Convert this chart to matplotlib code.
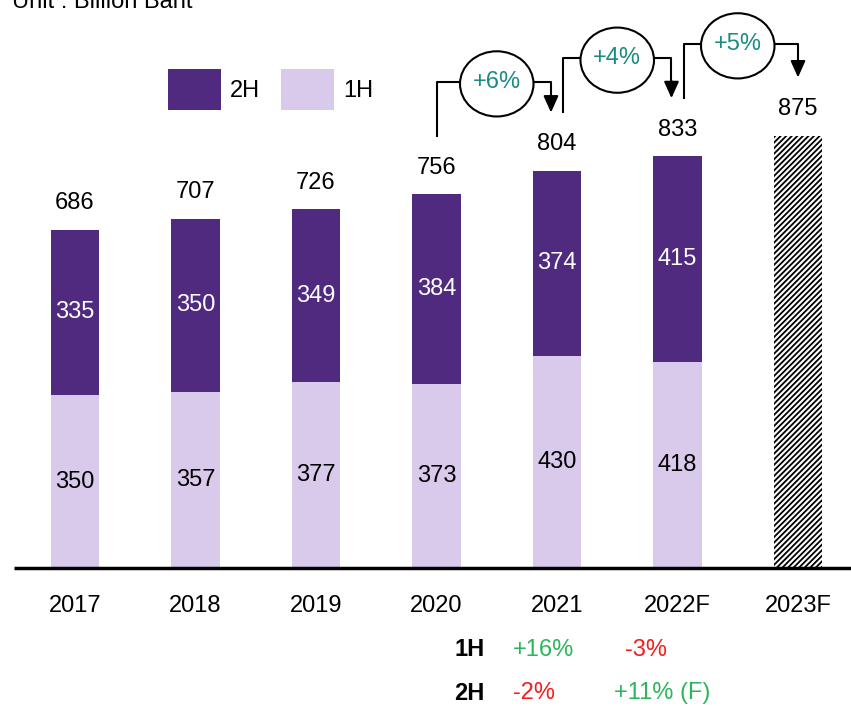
import matplotlib
matplotlib.use("Agg")
import matplotlib.pyplot as plt
from matplotlib.patches import Ellipse
import numpy as np

plt.rcParams['font.family'] = ['Liberation Sans', 'DejaVu Sans']
plt.rcParams['hatch.linewidth'] = 1.3

years = ["2017", "2018", "2019", "2020", "2021", "2022F", "2023F"]
first_half = [350, 357, 377, 373, 430, 418]
second_half = [335, 350, 349, 384, 374, 415]
totals = [686, 707, 726, 756, 804, 833, 875]
growth_labels = ["+6%", "+4%", "+5%"]
growth_from = [3, 4, 5]

row_1h = ["+16%", "-3%"]
row_2h = ["-2%", "+11% (F)"]

DARK = "#4F2A7F"
LIGHT = "#D9CAEC"
TEAL = "#1B8C82"
GREEN = "#2DB55D"
RED = "#F21D1D"
FS = 17

W, H = 851, 706
fig = plt.figure(figsize=(W / 100, H / 100), dpi=100)
ax = fig.add_axes([0, 138 / H, 1, 568 / H])
px_per_unit = 0.494
ax.set_ylim(0, 568 / px_per_unit)
ax.set_xlim(-75 / 120.5, (W - 75) / 120.5)

x = np.arange(len(years))
n = len(first_half)
bw = 0.4
b1 = ax.bar(x[:n], first_half, width=bw, color=LIGHT, label="1H")
b2 = ax.bar(x[:n], second_half, width=bw, bottom=first_half, color=DARK, label="2H")
ax.bar(x[n:], totals[n:], width=bw, color="white", edgecolor="black",
       hatch="//////", linewidth=0)

for i in range(n):
    ax.text(x[i], first_half[i] / 2, str(first_half[i]), ha="center", va="center",
            fontsize=FS, color="black")
    ax.text(x[i], first_half[i] + second_half[i] / 2, str(second_half[i]),
            ha="center", va="center", fontsize=FS, color="white")
for i, t in enumerate(totals):
    ax.annotate(str(t), (x[i], t), xytext=(0, 19), textcoords="offset points",
                ha="center", va="center", fontsize=FS)

# growth connectors
for lab, i in zip(growth_labels, growth_from):
    y0 = totals[i] + 117
    yh = totals[i] + 228
    y1 = totals[i + 1] + 118
    xs = x[i] if i == 3 else x[i] + 0.05
    xe = x[i + 1] - 0.05 if i < 5 else x[i + 1]
    xc = (x[i] + x[i + 1]) / 2
    ew, eh = 0.61, 132
    ax.plot([xs, xs, xc - ew / 2], [y0, yh, yh], color="black", lw=1.5,
            solid_capstyle="butt", clip_on=False)
    ax.plot([xc + ew / 2, xe, xe], [yh, yh, y1 + 20], color="black", lw=1.5,
            clip_on=False)
    ax.annotate("", xy=(xe, y1), xytext=(xe, y1 + 35),
                arrowprops=dict(arrowstyle="-|>,head_length=1.0,head_width=0.45",
                                mutation_scale=10, color="black", lw=1.5,
                                shrinkA=0, shrinkB=0))
    ax.add_patch(Ellipse((xc, yh - 4), ew, eh, facecolor="white", edgecolor="black",
                         lw=1.5, clip_on=False))
    ax.text(xc, yh, lab, ha="center", va="center", fontsize=FS, color=TEAL)

for s in ax.spines.values():
    s.set_visible(False)
ax.set_yticks([])
ax.set_xticks(x)
ax.set_xticklabels(years, fontsize=FS)
ax.tick_params(axis="x", length=0, pad=19.5)
ax.plot([-61 / 120.5, (W - 75) / 120.5], [0, 0], color="black", lw=2.5,
        clip_on=False, solid_capstyle="butt")

leg = ax.legend(handles=[b2, b1], labels=["2H", "1H"], ncol=2, frameon=False,
                fontsize=FS, handlelength=2.25, handleheight=2.3,
                handletextpad=0.38, columnspacing=0.89, borderpad=0,
                borderaxespad=0,
                loc="upper left", bbox_to_anchor=(168 / W, 1 - 69 / H),
                bbox_transform=fig.transFigure)

fig.text(12 / W, 1 - 8 / H, "Unit : Billion Baht", fontsize=FS, va="baseline",
         ha="left")

def ft(px, py, s, **kw):
    fig.text(px / W, 1 - py / H, s, va="center", ha="left", fontsize=FS, **kw)

ft(454, 650, "1H", fontweight="bold")
ft(454, 693, "2H", fontweight="bold")
ft(513, 650, row_1h[0], color=GREEN)
ft(625, 650, row_1h[1], color=RED)
ft(513, 693, row_2h[0], color=RED)
ft(614, 693, row_2h[1], color=GREEN)

fig.savefig("out.png", dpi=100)
